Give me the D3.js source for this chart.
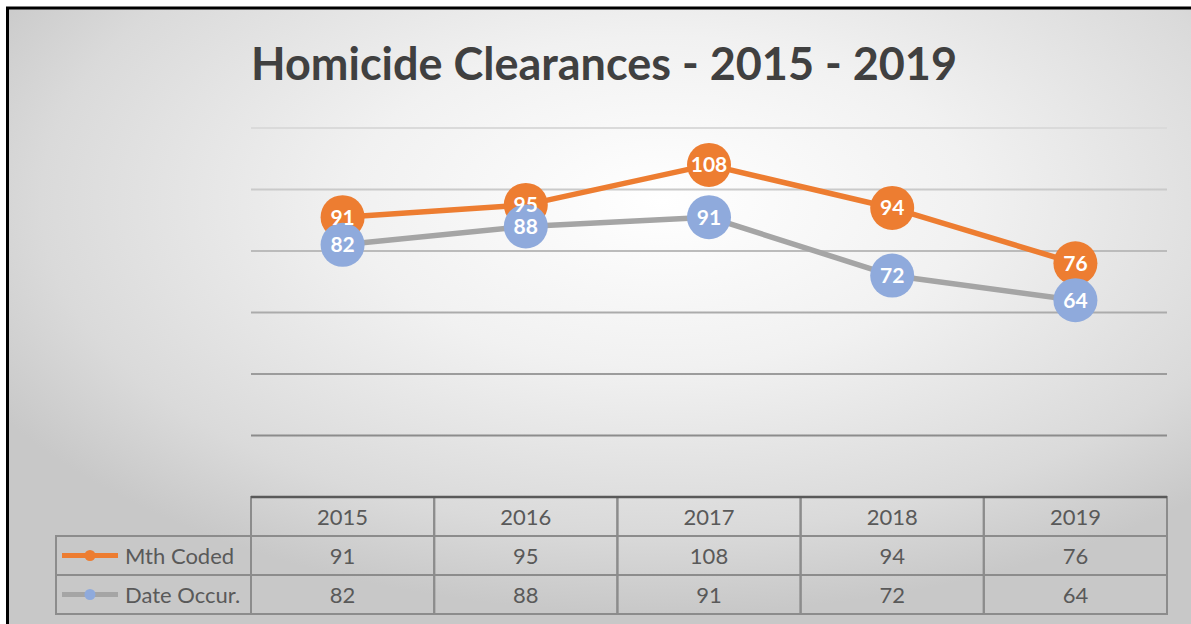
<!DOCTYPE html>
<html>
<head>
<meta charset="utf-8">
<script src="https://cdn.jsdelivr.net/npm/d3@7"></script>
<style>
  body { margin: 0; background: #fff; overflow: hidden; }
  svg { display: block; font-family: Lato, "Open Sans", sans-serif; }
</style>
</head>
<body>
<div id="chart"></div>
<script>
// data
var years = ["2015", "2016", "2017", "2018", "2019"];
var mthCoded = [91, 95, 108, 94, 76];
var dateOccur = [82, 88, 91, 72, 64];
var seriesNames = ["Mth Coded", "Date Occur."];
var yTicks = [20, 40, 60, 80, 100, 120];
var title = "Homicide Clearances - 2015 - 2019";

var W = 1191, H = 624;
var plot = {left: 251, right: 1167, top: 128, bottom: 497};

var svg = d3.select("#chart").append("svg")
  .attr("width", W)
  .attr("height", H);

// background gradient
var defs = svg.append("defs");
var grad = defs.append("radialGradient")
  .attr("id", "bg")
  .attr("cx", 0.54).attr("cy", 0.3).attr("r", 0.64)
  .attr("fx", 0.54).attr("fy", 0.3);
grad.append("stop").attr("offset", "0%").attr("stop-color", "#ffffff");
grad.append("stop").attr("offset", "40%").attr("stop-color", "#f1f1f1");
grad.append("stop").attr("offset", "80%").attr("stop-color", "#dadada");
grad.append("stop").attr("offset", "100%").attr("stop-color", "#c8c8c8");

// frame: only left and top edges are visible in the crop
svg.append("rect")
  .attr("x", 7.5).attr("y", 8)
  .attr("width", W + 20).attr("height", H + 20)
  .attr("fill", "url(#bg)")
  .attr("stroke", "#000")
  .attr("stroke-width", 3);

// title
svg.append("text")
  .attr("x", 251).attr("y", 80)
  .attr("textLength", 706)
  .attr("lengthAdjust", "spacingAndGlyphs")
  .style("font-size", "46px")
  .style("font-weight", "bold")
  .style("fill", "#404040")
  .text(title);

// scales
var x = d3.scaleBand().domain(years).range([plot.left, plot.right]);
var y = d3.scaleLinear().domain([0, 120]).range([plot.bottom, plot.top]);
var gridColor = d3.scaleLinear().domain([20, 120]).range(["#8c8c8c", "#dadada"]);

// gridlines
svg.append("g")
  .selectAll("line")
  .data(yTicks)
  .enter()
  .append("line")
    .attr("x1", plot.left).attr("x2", plot.right)
    .attr("y1", function(d) { return y(d); })
    .attr("y2", function(d) { return y(d); })
    .style("stroke", function(d) { return gridColor(d); })
    .style("stroke-width", 2);

var line = d3.line()
  .x(function(d, i) { return x(years[i]) + x.bandwidth() / 2; })
  .y(function(d) { return y(d); });

var series = [
  {name: seriesNames[0], values: mthCoded, line: "#ed7d31", marker: "#ed7d31"},
  {name: seriesNames[1], values: dateOccur, line: "#a5a5a5", marker: "#8faadc"}
];

series.forEach(function(s) {
  svg.append("path")
    .attr("d", line(s.values))
    .style("fill", "none")
    .style("stroke", s.line)
    .style("stroke-width", 5.5)
    .style("stroke-linejoin", "round");
});

series.forEach(function(s) {
  svg.append("g")
    .selectAll("circle")
    .data(s.values)
    .enter()
    .append("circle")
      .attr("cx", function(d, i) { return x(years[i]) + x.bandwidth() / 2; })
      .attr("cy", function(d) { return y(d); })
      .attr("r", 22)
      .style("fill", s.marker);
});

series.forEach(function(s) {
  svg.append("g")
    .selectAll("text")
    .data(s.values)
    .enter()
    .append("text")
      .attr("x", function(d, i) { return x(years[i]) + x.bandwidth() / 2; })
      .attr("y", function(d) { return y(d) + 7.5; })
      .attr("text-anchor", "middle")
      .style("font-size", "21px")
      .style("font-weight", "bold")
      .style("fill", "#fff")
      .text(function(d) { return d; });
});

// data table
var rows = ["head"].concat(seriesNames);
var rowY = d3.scaleBand().domain(rows).range([497, 614]);
var tableStroke = "#8c8c8c";
var legendLeft = 56;

var table = svg.append("g");

// cell borders
years.forEach(function(yr) {
  rows.forEach(function(r) {
    table.append("rect")
      .attr("x", x(yr)).attr("y", rowY(r))
      .attr("width", x.bandwidth()).attr("height", rowY.bandwidth())
      .style("fill", "none")
      .style("stroke", tableStroke)
      .style("stroke-width", 2);
  });
});
seriesNames.forEach(function(r) {
  table.append("rect")
    .attr("x", legendLeft).attr("y", rowY(r))
    .attr("width", plot.left - legendLeft).attr("height", rowY.bandwidth())
    .style("fill", "none")
    .style("stroke", tableStroke)
    .style("stroke-width", 2);
});
// axis line on top of the table
table.append("line")
  .attr("x1", plot.left).attr("x2", plot.right)
  .attr("y1", y(0)).attr("y2", y(0))
  .style("stroke", "#595959")
  .style("stroke-width", 2.5);

// header labels
table.selectAll(".yr")
  .data(years)
  .enter()
  .append("text")
    .attr("class", "yr")
    .attr("x", function(d) { return x(d) + x.bandwidth() / 2; })
    .attr("y", rowY("head") + rowY.bandwidth() / 2 + 8)
    .attr("text-anchor", "middle")
    .style("font-size", "22px")
    .style("fill", "#595959")
    .text(function(d) { return d; });

series.forEach(function(s) {
  var cy = rowY(s.name) + rowY.bandwidth() / 2;
  // legend key
  table.append("line")
    .attr("x1", 62).attr("x2", 118)
    .attr("y1", cy).attr("y2", cy)
    .style("stroke", s.line)
    .style("stroke-width", 5);
  table.append("circle")
    .attr("cx", 90).attr("cy", cy).attr("r", 5.5)
    .style("fill", s.marker);
  table.append("text")
    .attr("x", 125).attr("y", cy + 8)
    .style("font-size", "22px")
    .style("fill", "#595959")
    .text(s.name);

  table.append("g")
    .selectAll("text")
    .data(s.values)
    .enter()
    .append("text")
      .attr("x", function(d, i) { return x(years[i]) + x.bandwidth() / 2; })
      .attr("y", cy + 8)
      .attr("text-anchor", "middle")
      .style("font-size", "22px")
      .style("fill", "#595959")
      .text(function(d) { return d; });
});
</script>
</body>
</html>
